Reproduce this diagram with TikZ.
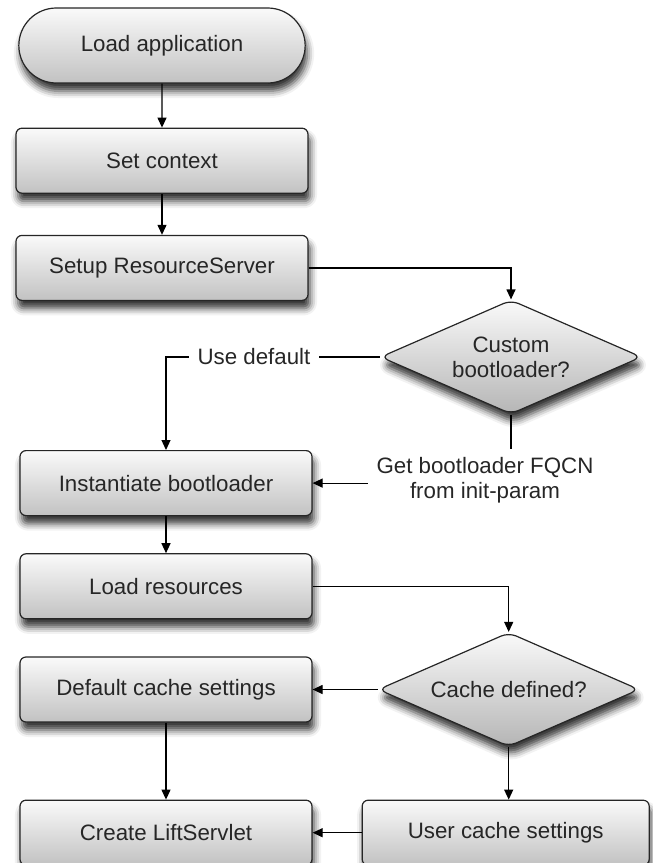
\documentclass[tikz,border=0pt]{standalone}
\usepackage{fontspec}
\setmainfont{Liberation Sans}
\usetikzlibrary{arrows.meta, shapes, shapes.geometric, shapes.misc, shadows, shadows.blur, positioning}
\tikzset{> = { Triangle[length = 10pt, width = 9pt] }}

\begin{document}
\begin{tikzpicture}[x = 1pt, y = -1pt, line width = 1.2pt, font = \fontsize{22.3}{25}\selectfont,
		fancy/.style = { draw = black!85, text = black!85, top color = gray!4, bottom color = gray!48,
			blur shadow = {shadow xshift=2pt,shadow yshift=-8pt,shadow blur radius=7pt,shadow opacity=80} },
		box/.style = { fancy, rectangle, rounded corners = 6pt, minimum width = 292pt, minimum height = 65pt },
		start/.style = { fancy, rounded rectangle, minimum width = 293pt, minimum height = 75pt },
		decision/.style = { fancy, diamond, aspect = 2.3, rounded corners = 8pt, minimum width = 261pt, minimum height = 114pt, inner sep = 0pt, align = center, bottom color = gray!58 },
		note/.style = { inner sep = 8pt, align = center, text = black!85 }]
		\useasboundingbox (0, 0) rectangle (653, 863);

		\node [start] (load) at (162, 45.5) {Load application};
		\node [box, below = 44pt of load] (ctx) {Set context};
		\node [box, below = 41pt of ctx] (rs) {Setup ResourceServer};
		\node [box, below = 149pt of rs, xshift = 4pt] (inst) {Instantiate bootloader};
		\node [box, below = 37pt of inst] (res) {Load resources};
		\node [box, below = 37pt of res] (defcache) {Default cache settings};
		\node [box, below = 77pt of defcache] (lift) {Create LiftServlet};

		\node [decision] (custom) at (511, 357) {Custom\\bootloader?};
		\node [note] (usedef) at (254, 357) {Use default};
		\node [note] (fqcn) at (485, 480) {Get bootloader FQCN\\from init-param};

		\node [decision, right = 65pt of defcache] (cache) {Cache defined?};
		\node [box, minimum width = 287pt, right = 49pt of lift] (user) {User cache settings};

		\draw [->] (load) -- (ctx);
		\draw [->] (ctx) -- (rs);
		\draw [->] (rs.east) -| (custom.north);

		\draw (custom.west) -- (usedef.east);
		\draw [->] (usedef.west) -| (inst.north);
		\draw (custom.south) -- (custom.south |- fqcn.north);
		\draw [->] (fqcn.west |- inst.east) -- (inst.east);

		\draw [->] (inst) -- (res);
		\draw [->] (res.east) -| (cache.north);
		\draw [->] (cache.west) -- (defcache.east);
		\draw [->] (cache.south) -- (cache.south |- user.north);
		\draw [->] (defcache) -- (lift);
		\draw [->] (user.west) -- (lift.east);
	\end{tikzpicture}
\end{document}
